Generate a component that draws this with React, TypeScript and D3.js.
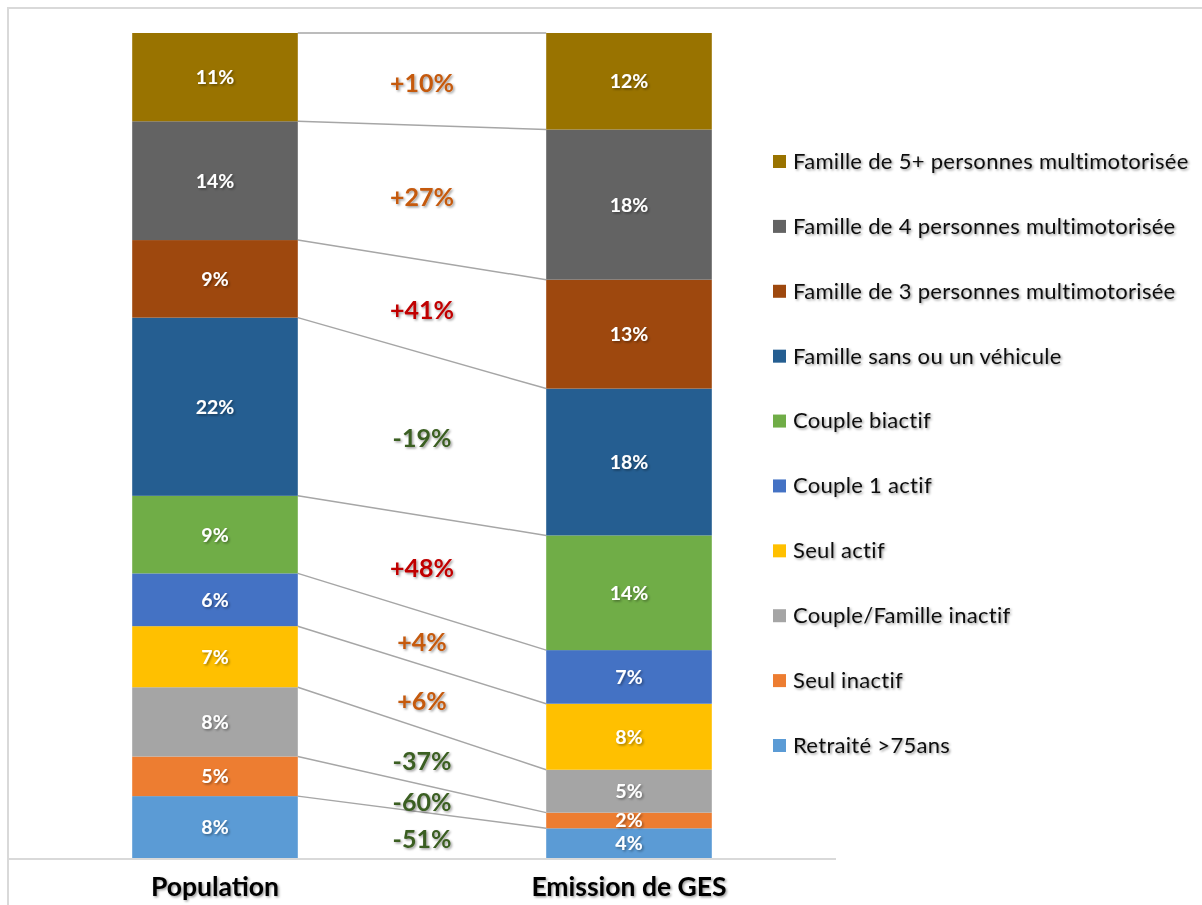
import React, { useRef, useEffect } from 'react';
import * as d3 from 'd3';

// categories (x axis) and household groups, bottom to top of each stack
const categories = ['Population', 'Emission de GES'];
const groups = [
  'Retraité >75ans',
  'Seul inactif',
  'Couple/Famille inactif',
  'Seul actif',
  'Couple 1 actif',
  'Couple biactif',
  'Famille sans ou un véhicule',
  'Famille de 3 personnes multimotorisée',
  'Famille de 4 personnes multimotorisée',
  'Famille de 5+ personnes multimotorisée'
];
// share in %
const population = [7.5, 4.8, 8.4, 7.4, 6.4, 9.4, 21.6, 9.4, 14.4, 10.7];
const emission = [3.6, 1.9, 5.2, 8.0, 6.5, 13.9, 17.8, 13.2, 18.2, 11.7];
// labelled gap between emission share and population share, in %
const evolution = [-51, -60, -37, 6, 4, 48, -19, 41, 27, 10];

const groupColors = [
  '#5B9BD5',
  '#ED7D31',
  '#A5A5A5',
  '#FFC000',
  '#4472C4',
  '#70AD47',
  '#255E91',
  '#9E480E',
  '#636363',
  '#997300'
];

const WIDTH = 1202;
const HEIGHT = 905;
const FONT = 'Lato, "Open Sans", sans-serif';

function evolutionColor(v: number) {
  if (v < 0) return '#3B5E22';
  if (v >= 40) return '#C00000';
  return '#C55A11';
}

function drawChart(svgEle: SVGSVGElement) {
  const svg = d3.select(svgEle);
  svg.selectAll('*').remove();

  const plot = { left: 8, right: 836, top: 33, bottom: 858 };

  // ombre portée des textes, comme dans Excel
  const defs = svg.append('defs');
  defs
    .append('filter')
    .attr('id', 'shadow')
    .attr('x', '-20%')
    .attr('y', '-30%')
    .attr('width', '140%')
    .attr('height', '160%')
    .append('feDropShadow')
    .attr('dx', 1.4)
    .attr('dy', 1.4)
    .attr('stdDeviation', 1)
    .attr('flood-color', '#000')
    .attr('flood-opacity', 0.4);

  // cadre
  svg
    .append('rect')
    .attr('x', 8)
    .attr('y', 8)
    .attr('width', 1400)
    .attr('height', 1200)
    .attr('fill', 'white')
    .attr('stroke', '#D9D9D9')
    .attr('stroke-width', 2);

  const x = d3
    .scaleBand()
    .domain(categories)
    .range([plot.left, plot.right])
    .paddingInner(0.6)
    .paddingOuter(0.3);
  const y = d3.scaleLinear().domain([0, 100]).range([plot.bottom, plot.top]);
  const bw = x.bandwidth();

  const rows = categories.map((c, ci) => {
    const row: Record<string, number | string> = { category: c };
    groups.forEach((g, gi) => {
      row[g] = ci === 0 ? population[gi] : emission[gi];
    });
    return row;
  });
  const series = d3.stack<any>().keys(groups)(rows);

  // lignes de liaison entre les deux barres
  const popX = (x(categories[0]) as number) + bw;
  const emX = x(categories[1]) as number;
  svg
    .append('g')
    .selectAll('line')
    .data(series)
    .enter()
    .append('line')
    .attr('x1', popX)
    .attr('y1', (s) => y(s[0][1]))
    .attr('x2', emX)
    .attr('y2', (s) => y(s[1][1]))
    .attr('stroke', '#A6A6A6')
    .attr('stroke-width', 1.5);

  // segments
  const layers = svg
    .append('g')
    .selectAll('g')
    .data(series)
    .enter()
    .append('g')
    .attr('fill', (s, i) => groupColors[i]);
  layers
    .selectAll('rect')
    .data((s) => s)
    .enter()
    .append('rect')
    .attr('x', (d) => x(d.data.category as string) as number)
    .attr('y', (d) => y(d[1]))
    .attr('width', bw)
    .attr('height', (d) => y(d[0]) - y(d[1]));

  // étiquettes des segments
  layers
    .selectAll('text')
    .data((s) => s)
    .enter()
    .append('text')
    .attr('x', (d) => (x(d.data.category as string) as number) + bw / 2)
    .attr('y', (d) => (y(d[0]) + y(d[1])) / 2)
    .attr('dy', '0.36em')
    .attr('text-anchor', 'middle')
    .attr('fill', 'white')
    .attr('font-family', FONT)
    .attr('font-weight', 'bold')
    .attr('font-size', 19.5)
    .attr('filter', 'url(#shadow)')
    .text((d) => `${Math.round(d[1] - d[0])}%`);

  // évolution entre les deux barres
  const midX = (popX + emX) / 2;
  const lineAt = (s: any) => (y(s[0][1]) + y(s[1][1])) / 2;
  const lineBelow = (s: any) => (y(s[0][0]) + y(s[1][0])) / 2;
  svg
    .append('g')
    .selectAll('text')
    .data(series)
    .enter()
    .append('text')
    .attr('x', midX)
    .attr('y', (s) => (lineAt(s) + lineBelow(s)) / 2 + 4)
    .attr('dy', '0.36em')
    .attr('text-anchor', 'middle')
    .attr('fill', (s, i) => evolutionColor(evolution[i]))
    .attr('font-family', FONT)
    .attr('font-weight', 'bold')
    .attr('font-size', 25)
    .attr('filter', 'url(#shadow)')
    .text((s, i) => `${evolution[i] > 0 ? '+' : ''}${evolution[i]}%`);

  // axe horizontal
  svg
    .append('line')
    .attr('x1', plot.left)
    .attr('x2', plot.right)
    .attr('y1', plot.bottom + 1)
    .attr('y2', plot.bottom + 1)
    .attr('stroke', '#D9D9D9')
    .attr('stroke-width', 2);
  svg
    .append('g')
    .selectAll('text')
    .data(categories)
    .enter()
    .append('text')
    .attr('x', (c) => (x(c) as number) + bw / 2)
    .attr('y', 896)
    .attr('text-anchor', 'middle')
    .attr('fill', '#000')
    .attr('font-family', FONT)
    .attr('font-weight', 'bold')
    .attr('font-size', 26.5)
    .attr('filter', 'url(#shadow)')
    .text((c) => c);

  // légende, du haut vers le bas
  const legendOrder = groups.map((g, i) => i).reverse();
  const legendY = d3
    .scalePoint()
    .domain(legendOrder.map(String))
    .range([161, 745]);
  const legend = svg
    .append('g')
    .selectAll('g')
    .data(legendOrder)
    .enter()
    .append('g')
    .attr('transform', (i) => `translate(773, ${legendY(String(i))})`);
  legend
    .append('rect')
    .attr('x', 0)
    .attr('y', -6)
    .attr('width', 13)
    .attr('height', 13)
    .attr('fill', (i) => groupColors[i]);
  legend
    .append('text')
    .attr('x', 20)
    .attr('dy', '0.36em')
    .attr('fill', '#111')
    .attr('font-family', FONT)
    .attr('font-size', 22)
    .attr('letter-spacing', 0.3)
    .style('font-variant-ligatures', 'none')
    .attr('filter', 'url(#shadow)')
    .text((i) => groups[i]);
}

export default function App(): JSX.Element {
  const svgRef = useRef<SVGSVGElement>(null);

  useEffect(() => {
    const svgEle = svgRef.current;
    if (svgEle == null) {
      return;
    }
    drawChart(svgEle);
  }, []);

  return (
    <div style={{ position: 'fixed', left: 0, top: 0, width: WIDTH, height: HEIGHT, background: 'white' }}>
      <svg ref={svgRef} width={WIDTH} height={HEIGHT} style={{ display: 'block' }} />
    </div>
  );
}
